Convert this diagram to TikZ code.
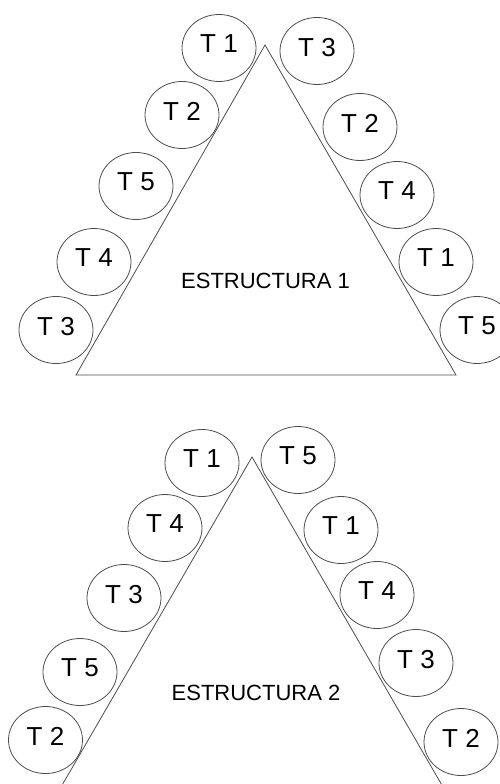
\documentclass[tikz,border=0pt]{standalone}
\usepackage{fontspec}
\setmainfont{Liberation Sans}
\usetikzlibrary{shapes.geometric}
\begin{document}
\begin{tikzpicture}[x=1pt,y=-1pt,
  tk/.style={ellipse, draw=black!70, line width=0.8pt, minimum width=74pt, minimum height=67pt, inner sep=0pt, font=\fontsize{26}{28}\selectfont, text depth=8pt},
  side/.style={draw=black!70, line width=0.8pt},
  title/.style={font=\fontsize{22}{24}\selectfont, inner sep=0pt}]
\useasboundingbox (0,0) rectangle (500,784);
\clip (0,0) rectangle (500,784);
% Structure 1
\coordinate (a1) at (265,45);
\coordinate (b1) at (76,375);
\coordinate (c1) at (456,375);
\draw[side] (a1) -- (b1) -- (c1) -- cycle;
\node[title] (s1) at (265.5,281) {ESTRUCTURA 1};
\node[tk] (l11) at (219,48) {T 1};
\node[tk] (l12) at (182,115) {T 2};
\node[tk] (l13) at (136,186) {T 5};
\node[tk] (l14) at (94,262) {T 4};
\node[tk] (l15) at (56,330) {T 3};
\node[tk] (r11) at (317,51) {T 3};
\node[tk] (r12) at (360,127) {T 2};
\node[tk] (r13) at (397,195) {T 4};
\node[tk] (r14) at (436,262) {T 1};
\node[tk] (r15) at (477,330) {T 5};
% Structure 2
\coordinate (a2) at (252,457);
\coordinate (b2) at (61,787);
\coordinate (c2) at (443,787);
\draw[side] (b2) -- (a2) -- (c2);
\node[title] (s2) at (256,693) {ESTRUCTURA 2};
\node[tk] (l21) at (202,463) {T 1};
\node[tk] (l22) at (165,528) {T 4};
\node[tk] (l23) at (124,598) {T 3};
\node[tk] (l24) at (80,672) {T 5};
\node[tk] (l25) at (45.5,740) {T 2};
\node[tk] (r21) at (298,460) {T 5};
\node[tk] (r22) at (341,530) {T 1};
\node[tk] (r23) at (377,595) {T 4};
\node[tk] (r24) at (416,663) {T 3};
\node[tk] (r25) at (461,742) {T 2};
\end{tikzpicture}
\end{document}
